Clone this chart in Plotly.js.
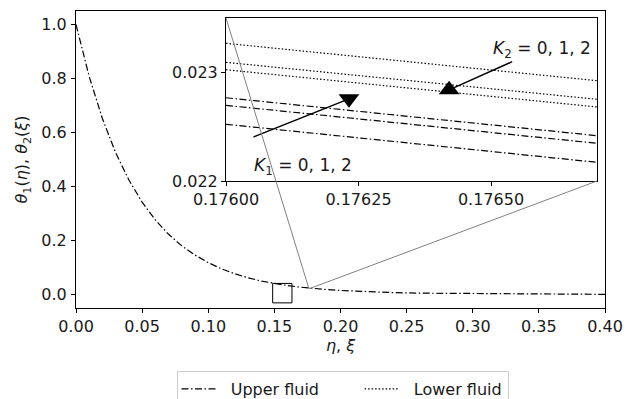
<!DOCTYPE html>
<html><head><meta charset="utf-8">
<script src="https://cdn.plot.ly/plotly-3.0.1.min.js"></script>
<style>html,body{margin:0;padding:0;background:#fff;overflow:hidden;}#wrap{width:634px;height:399px;overflow:hidden;}#chart{width:634px;height:440px;}</style>
</head><body><div id="wrap"><div id="chart"></div></div>
<script>
// ---- data ----
const etaValues = [0, 0.01, 0.02, 0.03, 0.04, 0.05, 0.06, 0.07, 0.08, 0.09, 0.10, 0.11, 0.12, 0.13, 0.14, 0.15, 0.16, 0.17, 0.18, 0.19, 0.20, 0.22, 0.24, 0.26, 0.28, 0.30, 0.32, 0.34, 0.36, 0.38, 0.40];
const thetaUpper = [1.000, 0.807, 0.651, 0.525, 0.424, 0.342, 0.276, 0.223, 0.180, 0.146, 0.118, 0.095, 0.077, 0.062, 0.050, 0.041, 0.033, 0.027, 0.022, 0.018, 0.015, 0.010, 0.007, 0.005, 0.004, 0.003, 0.002, 0.0015, 0.001, 0.0008, 0.0006];

const insetX = [0.176, 0.1767];
const upperK1_0 = [0.022522, 0.022172];
const upperK1_1 = [0.022696, 0.022347];
const upperK1_2 = [0.022766, 0.022417];
const lowerK2_0 = [0.023267, 0.022923];
const lowerK2_1 = [0.023092, 0.022752];
const lowerK2_2 = [0.023024, 0.022681];

const xTickVals = [0, 0.05, 0.10, 0.15, 0.20, 0.25, 0.30, 0.35, 0.40];
const yTickVals = [0, 0.2, 0.4, 0.6, 0.8, 1.0];
const insetXTicks = [0.17600, 0.17625, 0.17650];
const insetYTicks = [0.022, 0.023];

// ---- layout geometry (pixels in the page) ----
const W = 634, H = 440;
const L = 76, R = 605, T = 11, B = 308;
const IL = 226, IR = 597, IT = 18, IB = 181;
const pw = R - L, ph = B - T;
const xRange = [0, 0.4], yRange = [-0.05, 1.05];
const ixRange = [0.176, 0.1767], iyRange = [0.022, 0.0235];
const px = v => (v - xRange[0]) / (xRange[1] - xRange[0]);
const py = v => (v - yRange[0]) / (yRange[1] - yRange[0]);
const xDom2 = [(IL - L) / pw, (IR - L) / pw];
const yDom2 = [(B - IB) / ph, (B - IT) / ph];

const FONT = 'DejaVu Sans, sans-serif';
const TXT = '#1a1a1a';
const dashDot = '7px,2.5px,1.5px,2.5px';
const dotted = '1.5px,2px';
const NB = '\u00a0';

const traces = [
  {x: etaValues, y: thetaUpper, mode: 'lines', name: NB + NB + 'Upper fluid' + NB.repeat(7), legendgroup: 'u',
   line: {color: 'black', width: 1.2, dash: dashDot}, hoverinfo: 'skip'},
];
[upperK1_0, upperK1_1, upperK1_2].forEach((ys, i) => traces.push({
  x: insetX, y: ys, xaxis: 'x2', yaxis: 'y2', mode: 'lines', showlegend: false, legendgroup: 'u',
  line: {color: 'black', width: 1.2, dash: dashDot}, hoverinfo: 'skip'}));
[lowerK2_0, lowerK2_1, lowerK2_2].forEach((ys, i) => traces.push({
  x: insetX, y: ys, xaxis: 'x2', yaxis: 'y2', mode: 'lines', name: NB + NB + 'Lower fluid', legendgroup: 'l',
  showlegend: i === 0,
  line: {color: 'black', width: 1.2, dash: dotted}, hoverinfo: 'skip'}));

// arrow lines and heads (annotation marks)
const k1Start = [0.176052, 0.022405], k1Head = [0.176232, 0.022756];
const k2Start = [0.17654, 0.023098], k2Head = [0.176421, 0.022839];
traces.push({x: [k1Start[0], k1Head[0]], y: [k1Start[1], k1Head[1]], xaxis: 'x2', yaxis: 'y2',
  mode: 'lines', showlegend: false, line: {color: 'black', width: 1.5}, hoverinfo: 'skip'});
traces.push({x: [k2Start[0], k2Head[0]], y: [k2Start[1], k2Head[1]], xaxis: 'x2', yaxis: 'y2',
  mode: 'lines', showlegend: false, line: {color: 'black', width: 1.5}, hoverinfo: 'skip'});
traces.push({x: [k1Head[0], k2Head[0]], y: [k1Head[1], k2Head[1]], xaxis: 'x2', yaxis: 'y2',
  mode: 'markers', showlegend: false, hoverinfo: 'skip',
  marker: {symbol: ['triangle-down', 'triangle-up'], size: 18, color: 'black', line: {width: 0}}});

const axisBase = {showgrid: false, zeroline: false, showline: true, linecolor: 'black', linewidth: 1,
  mirror: true, ticks: 'outside', ticklen: 4, tickwidth: 1, tickcolor: 'black',
  tickfont: {family: FONT, size: 16, color: TXT}};

const layout = {
  width: W, height: H,
  margin: {l: L, r: W - R, t: T, b: H - B, pad: 0},
  paper_bgcolor: 'white', plot_bgcolor: 'white',
  font: {family: FONT, size: 16, color: TXT},
  xaxis: Object.assign({}, axisBase, {range: xRange, tickvals: xTickVals, tickformat: '.2f',
    title: {text: '<i>η</i>, <i>ξ</i>', font: {family: FONT, size: 16, color: TXT}, standoff: 2}}),
  yaxis: Object.assign({}, axisBase, {range: yRange, tickvals: yTickVals, tickformat: '.1f',
    ticklabelstandoff: 1,
    title: {text: '<i>θ</i><sub>1</sub>(<i>η</i>), <i>θ</i><sub>2</sub>(<i>ξ</i>)', font: {family: FONT, size: 16, color: TXT}, standoff: 9}}),
  xaxis2: Object.assign({}, axisBase, {domain: xDom2, anchor: 'y2', range: ixRange,
    tickvals: insetXTicks, tickformat: '.5f'}),
  yaxis2: Object.assign({}, axisBase, {domain: yDom2, anchor: 'x2', range: iyRange,
    tickvals: insetYTicks, tickformat: '.3f'}),
  showlegend: true,
  legend: {orientation: 'h', x: 0.5 + 2 / pw, xanchor: 'center', y: (B - 371) / ph, yanchor: 'top',
    bordercolor: '#cccccc', borderwidth: 1, bgcolor: 'white',
    font: {family: FONT, size: 16, color: TXT}, itemwidth: 34},
  shapes: [
    {type: 'rect', xref: 'x', yref: 'y', x0: 0.1487, x1: 0.1633, y0: -0.031, y1: 0.041,
     line: {color: 'black', width: 1}, fillcolor: 'rgba(0,0,0,0)', layer: 'above'},
    {type: 'rect', xref: 'x', yref: 'y', x0: ixRange[0], x1: ixRange[1], y0: iyRange[0], y1: iyRange[1],
     line: {color: 'gray', width: 1}, layer: 'above'},
    {type: 'line', xref: 'paper', yref: 'paper', x0: xDom2[0], y0: yDom2[1], x1: px(ixRange[0]), y1: py(iyRange[1]),
     line: {color: 'gray', width: 1}, layer: 'above'},
    {type: 'line', xref: 'paper', yref: 'paper', x0: xDom2[1], y0: yDom2[0], x1: px(ixRange[1]), y1: py(iyRange[0]),
     line: {color: 'gray', width: 1}, layer: 'above'}
  ],
  annotations: [
    {xref: 'x2', yref: 'y2', x: 0.176146, y: 0.022138, text: '<i>K</i><sub>1</sub> = 0, 1, 2',
     showarrow: false, font: {family: FONT, size: 17, color: TXT}},
    {xref: 'x2', yref: 'y2', x: 0.176597, y: 0.023214, text: '<i>K</i><sub>2</sub> = 0, 1, 2',
     showarrow: false, font: {family: FONT, size: 17, color: TXT}}
  ]
};

Plotly.newPlot('chart', traces, layout, {displayModeBar: false, staticPlot: true});
</script></body></html>
